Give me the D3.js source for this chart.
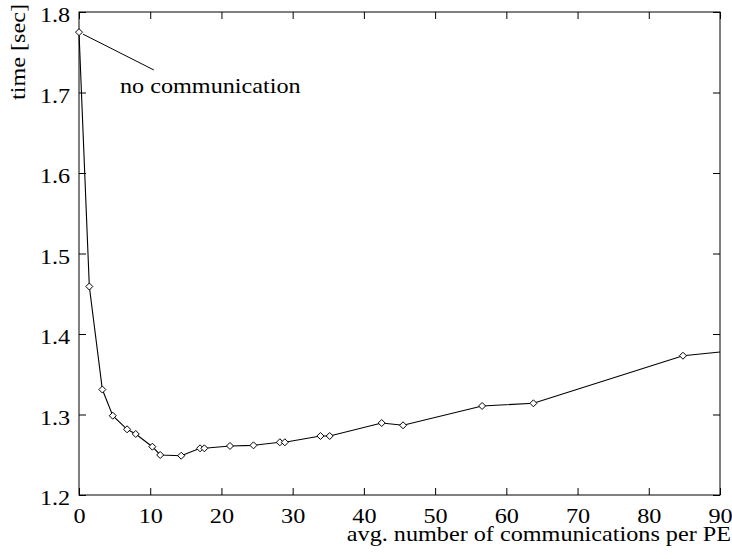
<html>
<head>
<meta charset="utf-8">
<script src="https://cdn.jsdelivr.net/npm/d3@7"></script>
<style>
body { margin: 0; background: #fff; }
text { font-family: "Liberation Serif", "Times New Roman", serif; fill: #000; }
.frame { fill: none; stroke: #000; stroke-width: 1px; }
.curve { fill: none; stroke: #000; stroke-width: 1.1px; }
.mark { fill: #fff; stroke: #000; stroke-width: 1px; }
</style>
</head>
<body>
<script>
// values
var commX = [0, 1.45, 3.28, 4.74, 6.75, 7.97, 10.3, 11.4, 14.35, 17.0, 17.6, 21.2, 24.5,
             28.2, 28.9, 33.9, 35.2, 42.5, 45.5, 56.6, 63.8, 84.8, 90];
var timeY = [1.775, 1.459, 1.331, 1.2985, 1.2816, 1.2758, 1.260, 1.2497, 1.2488, 1.258, 1.258,
             1.2609, 1.2617, 1.2655, 1.2655, 1.2733, 1.2733, 1.2894, 1.2866, 1.3106, 1.3139,
             1.373, 1.3776];
var xTicks = [0, 10, 20, 30, 40, 50, 60, 70, 80, 90];
var yTicks = [1.2, 1.3, 1.4, 1.5, 1.6, 1.7, 1.8];
var noteFrom = [0, 1.775], noteTo = [10.5, 1.728];
var noteText = "no communication";

var width = 732, height = 559;
var m = {left: 79, right: 12, top: 12, bottom: 64};
var fs = 22, stretch = "scale(1.1,1)";

var x = d3.scaleLinear().domain([0, 90]).range([m.left, width - m.right]);
var y = d3.scaleLinear().domain([1.2, 1.8]).range([height - m.bottom, m.top]);

var svg = d3.select("body").append("svg")
    .attr("width", width)
    .attr("height", height);

// ticks on all four sides, pointing inwards
function styleAxis(g) {
  g.select(".domain").remove();
  g.selectAll("line").attr("stroke", "#000");
  g.selectAll("text").style("font-size", fs + "px").attr("transform", stretch);
}

svg.append("g")
   .attr("transform", "translate(0," + y(1.2) + ")")
   .call(d3.axisBottom(x).tickValues(xTicks).tickSize(-7).tickPadding(12).tickFormat(d3.format("d")))
   .call(styleAxis)
   .selectAll("text").attr("dy", "0.71em").attr("y", 12);

svg.append("g")
   .attr("transform", "translate(0," + y(1.8) + ")")
   .call(d3.axisTop(x).tickValues(xTicks).tickSize(-7).tickFormat(""))
   .call(styleAxis);

svg.append("g")
   .attr("transform", "translate(" + x(0) + ",0)")
   .call(d3.axisLeft(y).tickValues(yTicks).tickSize(-7).tickPadding(8).tickFormat(d3.format(".1f")))
   .call(styleAxis)
   .selectAll("text").attr("dy", "0.45em");

svg.append("g")
   .attr("transform", "translate(" + x(90) + ",0)")
   .call(d3.axisRight(y).tickValues(yTicks).tickSize(-7).tickFormat(""))
   .call(styleAxis);

svg.append("rect")
   .attr("class", "frame")
   .attr("x", x(0)).attr("y", y(1.8))
   .attr("width", x(90) - x(0)).attr("height", y(1.2) - y(1.8));

var pts = commX.map(function(d, i) { return {x: d, y: timeY[i]}; });

var line = d3.line()
    .x(function(d) { return x(d.x); })
    .y(function(d) { return y(d.y); });

svg.append("path").datum(pts).attr("class", "curve").attr("d", line);

svg.append("g").selectAll("path")
   .data(pts.filter(function(d) { return d.x < 90; }))
   .enter().append("path")
   .attr("class", "mark")
   .attr("transform", function(d) { return "translate(" + x(d.x) + "," + y(d.y) + ")"; })
   .attr("d", "M0,-3.5L3.5,0L0,3.5L-3.5,0Z");

// annotation
svg.append("line")
   .attr("x1", x(noteFrom[0]) + 4).attr("y1", y(noteFrom[1]) + 2)
   .attr("x2", x(noteTo[0])).attr("y2", y(noteTo[1]))
   .attr("stroke", "#000").attr("stroke-width", 1);

svg.append("g")
   .attr("transform", "translate(120,93)")
   .append("text")
   .attr("transform", stretch)
   .style("font-size", fs + "px")
   .text(noteText);

// axis titles
svg.append("g")
   .attr("transform", "translate(731,541)")
   .append("text")
   .attr("transform", stretch)
   .attr("text-anchor", "end")
   .style("font-size", fs + "px")
   .text("avg. number of communications per PE");

svg.append("g")
   .attr("transform", "translate(25,52) rotate(-90)")
   .append("text")
   .attr("transform", stretch)
   .attr("text-anchor", "middle")
   .style("font-size", fs + "px")
   .text("time [sec]");
</script>
</body>
</html>
